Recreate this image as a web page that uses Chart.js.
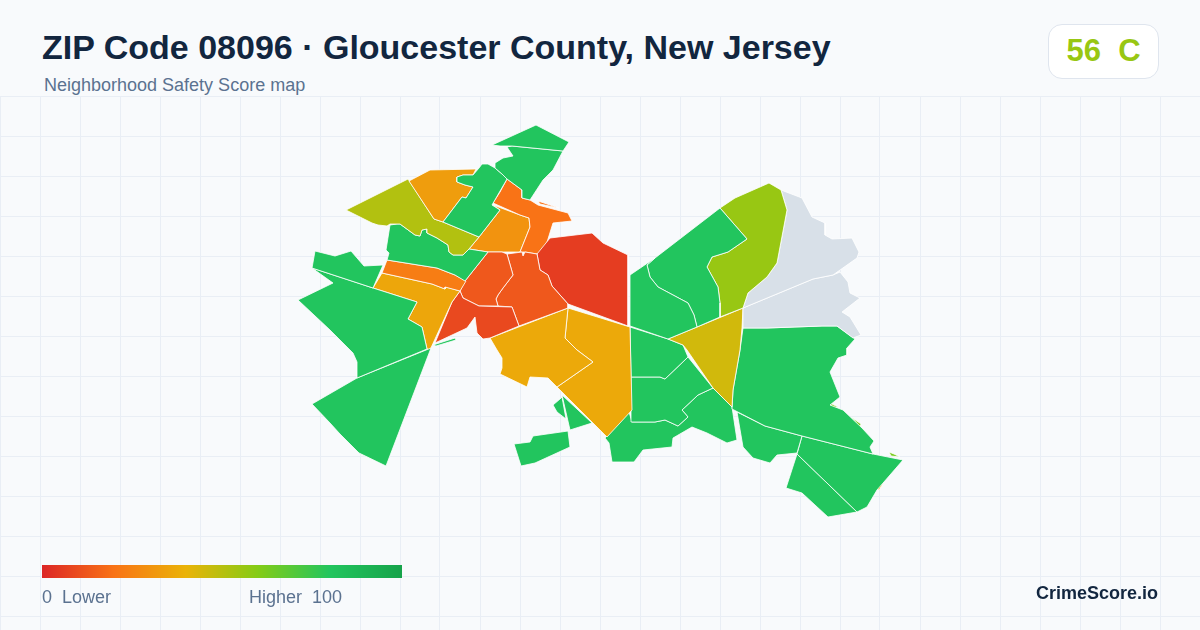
<!DOCTYPE html>
<html>
<head>
<meta charset="utf-8">
<title>ZIP Code 08096</title>
<script src="https://cdn.jsdelivr.net/npm/chart.js@4"></script>
<style>
  html, body { margin: 0; padding: 0; }
  body { width: 1200px; height: 630px; background: #f8fafc; position: relative; overflow: hidden; font-family: "Liberation Sans", Arial, sans-serif; }
  #map { position: absolute; left: 0; top: 96px; width: 1200px; height: 534px; }
  .title { position: absolute; left: 42px; top: 26px; font-size: 34px; line-height: 42px; font-weight: 700; color: #12263f; white-space: nowrap; }
  .sub { position: absolute; left: 44px; top: 74px; font-size: 18px; line-height: 22px; color: #5b7290; white-space: nowrap; }
  .badge { position: absolute; left: 1048px; top: 24px; width: 109px; height: 53px; background: #fff; border: 1px solid #dfe5ee; border-radius: 14px; text-align: center; font-size: 31px; line-height: 52px; font-weight: 700; color: #98c713; white-space: pre; }
  .bar { position: absolute; left: 42px; top: 565px; width: 360px; height: 13px; background: linear-gradient(90deg, #dc2626 0%, #f97316 20%, #eab308 40%, #84cc16 60%, #22c55e 80%, #16a34a 100%); }
  .lg { position: absolute; top: 586px; font-size: 18px; line-height: 22px; color: #5b7290; white-space: pre; }
  .brand { position: absolute; right: 42px; top: 582px; font-size: 18px; line-height: 22px; font-weight: 700; color: #12263f; }
</style>
</head>
<body>
<canvas id="map" width="1200" height="534"></canvas>
<div class="title">ZIP Code 08096 · Gloucester County, New Jersey</div>
<div class="sub">Neighborhood Safety Score map</div>
<div class="badge">56  C</div>
<div class="bar"></div>
<div class="lg" style="left:42px">0  Lower</div>
<div class="lg" style="left:249px">Higher  100</div>
<div class="brand">CrimeScore.io</div>
<script>
const gridX = [0, 40, 80, 120, 160, 200, 240, 280, 320, 360, 400, 440, 480, 520, 560, 600, 640, 680, 720, 760, 800, 840, 880, 920, 960, 1000, 1040, 1080, 1120, 1160, 1200];
const gridY = [96, 136, 176, 216, 256, 296, 336, 376, 416, 456, 496, 536, 576, 616];

const scoreStops = [0, 20, 40, 60, 80, 100];
const stopColors = [[220, 38, 38], [249, 115, 22], [234, 179, 8], [132, 204, 22], [34, 197, 94], [22, 163, 74]];
const noDataColor = '#d8e0e8';

// one score per tract, null = no data
const tractScores = [
  80, 80, 80, 33, 51, 80, 80, 80, 80, 23, 36, 80, 9, 13, 13, 6, 20, 20, 30, 37, 37,
  80, 80, 56, null, null, 45, 80, 80, 80, 80, 80, 80, 80, 80, 80, 80, 80,
  62, 62, 62, 38
];

const tractOutlines = [
  [[492,145],[536,125],[569,142],[563,151],[512,146],[500,146]],
  [[512,146],[563,151],[553,170],[543,180],[530,200],[522,198],[522,190],[507,179],[502,174],[495,168],[495,163],[503,158],[513,156],[507,147]],
  [[479,168],[482,164],[488,164],[495,168],[502,174],[507,179],[492,205],[500,210],[479,237],[443,222],[462,197],[466,198],[473,187],[465,185],[457,182],[457,177],[463,175],[473,175]],
  [[409,181],[430,170],[476,169],[473,175],[463,175],[457,177],[457,182],[465,185],[473,187],[466,198],[462,197],[443,222],[434,219]],
  [[346,210],[408,179],[434,219],[443,222],[479,237],[469,249],[463,255],[453,255],[449,252],[448,245],[437,238],[427,233],[427,229],[422,230],[420,236],[415,235],[400,224],[390,224],[387,226],[378,225],[372,223]],
  [[397,224],[400,224],[415,235],[420,236],[422,230],[427,229],[427,233],[437,238],[448,245],[449,252],[453,255],[463,255],[469,249],[488,252],[465,281],[455,275],[437,268],[387,260],[389,253],[386,250],[390,225]],
  [[315,251],[335,256],[351,251],[364,266],[383,265],[373,288],[312,268]],
  [[312,268],[373,288],[417,302],[408,319],[422,327],[427,349],[357,378],[357,362],[353,353],[330,330],[298,300],[333,283]],
  [[357,378],[431,348],[386,466],[359,453],[340,434],[330,423],[312,404]],
  [[387,260],[437,268],[455,275],[466,281],[460,291],[445,287],[445,289],[432,284],[382,273]],
  [[382,273],[432,284],[445,289],[446,287],[460,291],[452,302],[430,350],[427,349],[422,327],[408,319],[417,302],[373,288]],
  [[433,345],[455,338],[456,340],[436,346]],
  [[460,291],[463,298],[479,306],[512,307],[519,326],[490,338],[483,339],[477,333],[475,317],[467,328],[435,343],[452,302]],
  [[488,252],[502,252],[507,254],[513,275],[503,288],[498,295],[496,299],[498,306],[479,306],[463,298],[460,291],[465,281]],
  [[507,254],[522,252],[523,256],[525,252],[537,254],[540,270],[548,275],[552,286],[568,304],[568,308],[519,326],[512,307],[498,306],[496,299],[498,295],[503,288],[513,275]],
  [[537,254],[550,238],[592,233],[603,243],[628,255],[628,326],[568,304],[552,286],[548,275],[540,270]],
  [[507,179],[522,190],[522,198],[530,200],[538,205],[568,213],[572,221],[553,223],[543,255],[537,254],[525,252],[520,252],[530,227],[529,218],[520,215],[493,203],[500,192]],
  [[538,201],[559,208],[540,204]],
  [[493,205],[520,215],[529,218],[530,227],[520,252],[502,252],[488,252],[469,249],[479,237],[500,210]],
  [[490,338],[568,308],[565,338],[577,350],[593,362],[557,387],[548,378],[530,377],[527,387],[500,374],[502,368],[502,358],[497,350]],
  [[568,308],[630,327],[632,410],[607,437],[557,387],[593,362],[577,350],[565,338]],
  [[630,275],[655,258],[647,265],[650,277],[658,287],[673,295],[688,303],[694,315],[697,327],[668,339],[630,326]],
  [[655,258],[720,208],[747,239],[728,252],[712,257],[707,267],[718,287],[720,303],[720,317],[697,327],[694,315],[688,303],[673,295],[658,287],[650,277],[647,265]],
  [[720,208],[735,198],[769,183],[781,190],[787,210],[777,263],[767,277],[748,293],[743,308],[720,317],[720,303],[718,287],[707,267],[712,257],[728,252],[747,239]],
  [[769,183],[781,190],[802,198],[812,217],[825,223],[825,235],[832,239],[852,238],[859,252],[857,258],[833,275],[813,279],[743,308],[748,293],[767,277],[777,263],[787,210],[781,190]],
  [[743,308],[813,279],[833,275],[840,272],[848,282],[850,293],[860,298],[842,312],[850,317],[861,335],[853,338],[837,326],[822,326],[767,328],[743,328]],
  [[668,339],[743,308],[742,328],[740,350],[733,390],[732,407],[713,388],[687,350],[683,345]],
  [[743,328],[767,328],[822,326],[837,326],[855,339],[847,348],[847,355],[838,358],[830,372],[840,397],[830,405],[843,410],[862,428],[874,441],[870,447],[873,454],[802,436],[765,426],[732,409],[733,390],[740,350]],
  [[737,412],[765,426],[802,436],[797,453],[777,455],[770,463],[753,458],[743,447]],
  [[802,436],[873,454],[903,460],[890,475],[877,490],[867,507],[857,512],[797,454]],
  [[797,454],[857,512],[828,517],[802,493],[786,488]],
  [[630,327],[668,339],[683,345],[688,357],[665,379],[660,377],[631,377]],
  [[631,377],[660,377],[665,379],[688,357],[713,388],[698,395],[682,410],[688,417],[678,426],[665,420],[655,422],[632,422]],
  [[713,388],[732,407],[737,440],[727,443],[707,433],[692,427],[673,438],[672,447],[643,450],[634,462],[612,462],[609,443],[605,438],[629,412],[632,422],[655,422],[665,420],[678,426],[688,417],[682,410],[698,395]],
  [[562,395],[592,423],[570,430]],
  [[560,399],[562,397],[566,419],[557,412],[553,405]],
  [[514,444],[530,442],[533,436],[568,431],[570,447],[535,463],[521,466]],
  [[524,378],[528,377],[527,386]],
  [[830,403],[838,407],[832,408]],
  [[851,417],[861,424],[860,427]],
  [[889,452],[894,454],[900,457],[891,456]],
  [[877,489],[884,482],[879,490]]
];

// same ramp as the legend bar
function scoreColor(score) {
  if (score === null) return noDataColor;
  let i = 0;
  while (i < scoreStops.length - 2 && score > scoreStops[i + 1]) i++;
  const t = (score - scoreStops[i]) / (scoreStops[i + 1] - scoreStops[i]);
  const c = stopColors[i].map((v, k) => Math.round(v + (stopColors[i + 1][k] - v) * t));
  return `rgb(${c[0]}, ${c[1]}, ${c[2]})`;
}

const datasets = tractOutlines.map((outline, i) => {
  const ring = outline.concat([outline[0]]);
  return {
    data: ring.map((p) => ({ x: p[0], y: p[1] })),
    showLine: true,
    fill: 'shape',
    tension: 0,
    backgroundColor: scoreColor(tractScores[i]),
    borderColor: '#ffffff',
    borderWidth: 0.8,
    pointRadius: 0,
  };
});

const gridOptions = { color: '#e9eef5', lineWidth: 1, drawTicks: false };

new Chart(document.getElementById('map'), {
  type: 'scatter',
  data: { datasets },
  options: {
    responsive: false,
    animation: false,
    layout: { padding: 0 },
    plugins: { legend: { display: false }, tooltip: { enabled: false } },
    scales: {
      x: {
        type: 'linear', min: 0, max: 1200,
        grid: gridOptions, border: { display: false },
        ticks: { display: false },
        afterBuildTicks: (axis) => { axis.ticks = gridX.map((value) => ({ value })); },
      },
      y: {
        type: 'linear', min: 96, max: 630, reverse: true,
        grid: gridOptions, border: { display: false },
        ticks: { display: false },
        afterBuildTicks: (axis) => { axis.ticks = gridY.map((value) => ({ value })); },
      },
    },
  },
});
</script>
</body>
</html>
